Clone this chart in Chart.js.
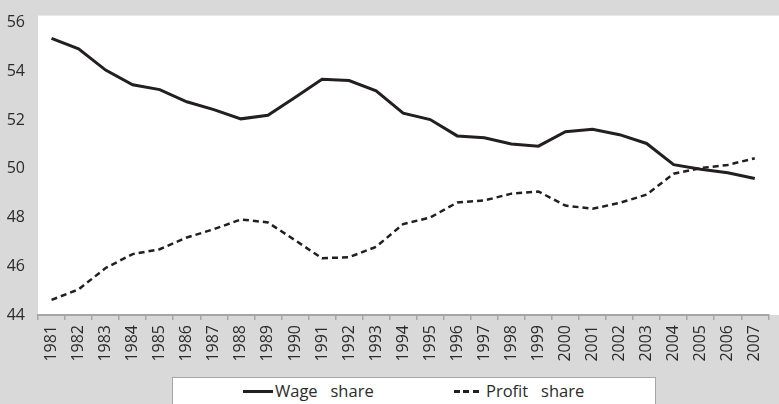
<!DOCTYPE html>
<html lang="en">
<head>
  <meta charset="UTF-8" />
  <title>Wage share and profit share</title>
  <script src="https://cdn.jsdelivr.net/npm/chart.js"></script>
  <style>
    body {
      margin: 0;
      background: #d9d9d9;
      font-family: 'Open Sans', sans-serif;
      color: #2b2b2b;
    }
    .wrap {
      position: relative;
      width: 779px;
      height: 404px;
      overflow: hidden;
    }
    /* legend box sits under the axis labels, runs off the bottom edge */
    .legend {
      position: absolute;
      left: 172px;
      top: 377px;
      width: 482px;
      height: 40px;
      background: white;
      border: 1px solid #a6a6a6;
    }
    .item {
      position: absolute;
      top: 0px;
      font-size: 16.5px;
      line-height: 26px;
      white-space: pre;
    }
    .sample {
      position: absolute;
      top: 12px;
      height: 3px;
    }
    .solid { background: #231f20; width: 30px; }
    .dashed {
      width: 25px;
      background: repeating-linear-gradient(90deg, #231f20 0 6px, transparent 6px 9.5px);
    }
  </style>
</head>
<body>
  <div class="wrap">
    <canvas id="chart" width="779" height="404"></canvas>
    <div class="legend">
      <div class="sample solid" style="left:70px"></div>
      <div class="item" style="left:102px">Wage   share</div>
      <div class="sample dashed" style="left:281px"></div>
      <div class="item" style="left:313px">Profit   share</div>
    </div>
  </div>

  <script>
    const years = ["1981", "1982", "1983", "1984", "1985", "1986", "1987", "1988", "1989",
      "1990", "1991", "1992", "1993", "1994", "1995", "1996", "1997", "1998", "1999",
      "2000", "2001", "2002", "2003", "2004", "2005", "2006", "2007"];

    const wageShare = [55.35, 54.92, 54.05, 53.45, 53.25, 52.75, 52.43, 52.05, 52.2,
      52.93, 53.67, 53.62, 53.2, 52.28, 52.02, 51.35, 51.27, 51.02, 50.93,
      51.52, 51.62, 51.4, 51.04, 50.17, 49.98, 49.84, 49.6];

    const profitShare = [44.62, 45.05, 45.93, 46.5, 46.7, 47.18, 47.52, 47.92, 47.8,
      47.07, 46.33, 46.37, 46.8, 47.73, 48.0, 48.62, 48.7, 48.98, 49.07,
      48.49, 48.36, 48.6, 48.94, 49.8, 50.03, 50.16, 50.43];

    const yTicks = [44, 46, 48, 50, 52, 54, 56];

    const lineColor = "#231f20";
    const axisColor = "#a6a6a6";
    const textColor = "#2b2b2b";

    // white plot panel, starts a bit above the top tick
    const plotBg = {
      id: "plotBg",
      beforeDraw(chart) {
        const { ctx, chartArea } = chart;
        ctx.save();
        ctx.fillStyle = "white";
        ctx.fillRect(chartArea.left, chartArea.top - 7, chart.width - chartArea.left, chartArea.bottom - chartArea.top + 7);
        ctx.restore();
      }
    };

    new Chart(document.getElementById("chart"), {
      type: "line",
      data: {
        labels: years,
        datasets: [
          { label: "Wage share", data: wageShare, borderColor: lineColor, borderWidth: 3, pointRadius: 0, tension: 0, fill: false },
          { label: "Profit share", data: profitShare, borderColor: lineColor, borderWidth: 2.5, borderDash: [6, 4], pointRadius: 0, tension: 0, fill: false }
        ]
      },
      options: {
        responsive: false,
        devicePixelRatio: 1,
        animation: false,
        layout: { padding: { top: 15, right: 1, left: 0, bottom: 0 } },
        plugins: { legend: { display: false }, tooltip: { enabled: false } },
        scales: {
          x: {
            offset: true,
            grid: { display: true, drawOnChartArea: false, offset: true, color: axisColor, lineWidth: 1.5, tickLength: 5 },
            border: { display: true, color: axisColor, width: 2 },
            ticks: {
              autoSkip: false, maxRotation: 90, minRotation: 90, padding: 5,
              color: textColor, font: { family: "'Open Sans', sans-serif", size: 16 }
            },
            afterFit(s) { s.height = 89; }
          },
          y: {
            min: 44,
            max: 56,
            afterBuildTicks(s) { s.ticks = yTicks.map(v => ({ value: v })); },
            grid: { display: false, drawTicks: false },
            border: { display: false },
            ticks: {
              padding: 13,
              color: textColor, font: { family: "'Open Sans', sans-serif", size: 16 }
            },
            afterFit(s) { s.width = 38; }
          }
        }
      },
      plugins: [plotBg]
    });
  </script>
</body>
</html>
